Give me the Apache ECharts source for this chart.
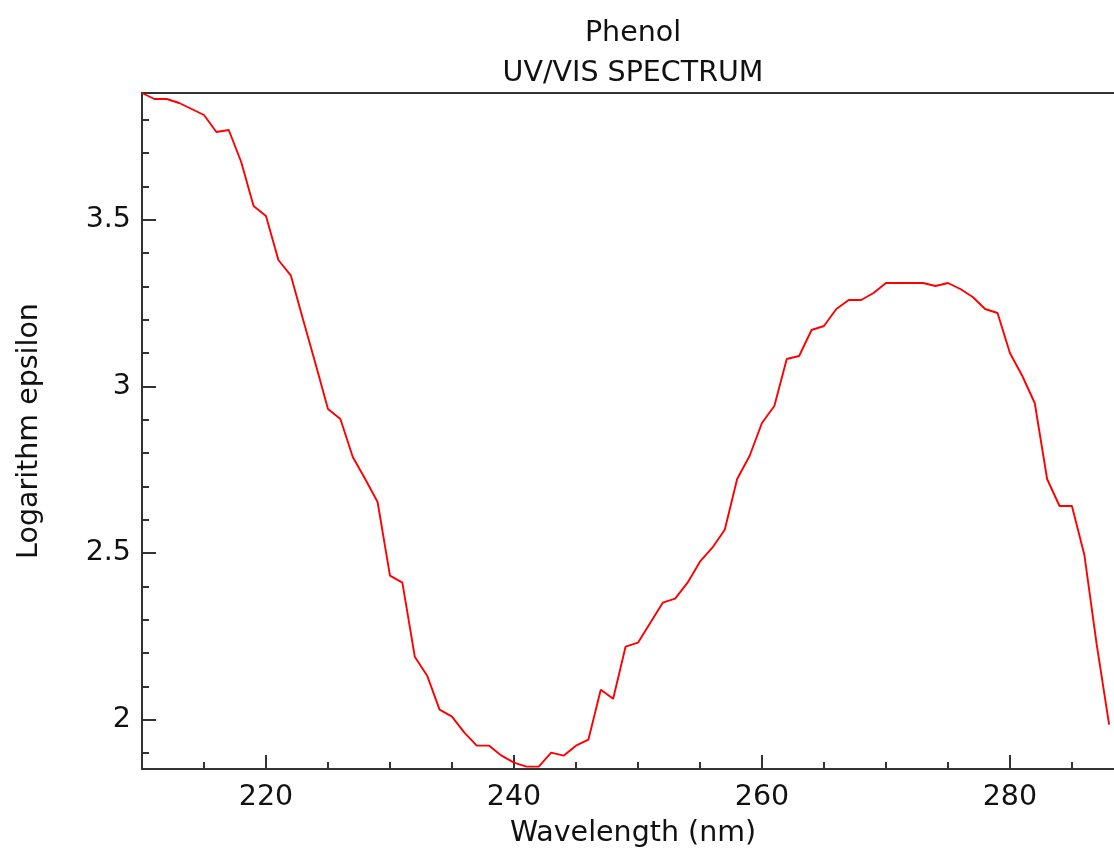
<!DOCTYPE html>
<html>
<head>
<meta charset="utf-8">
<script src="https://cdn.jsdelivr.net/npm/echarts@6/dist/echarts.min.js"></script>
<style>
html,body{margin:0;padding:0;background:#fff;}
#chart{width:1114px;height:849px;}
</style>
</head>
<body>
<div id="chart"></div>
<script>
// Wavelengths (nm) and logarithm of epsilon
const wavelengths = [210,211,212,213,214,215,216,217,218,219,220,221,222,223,224,225,226,227,228,229,
  230,231,232,233,234,235,236,237,238,239,240,241,242,243,244,245,246,247,248,249,
  250,251,252,253,254,255,256,257,258,259,260,261,262,263,264,265,266,267,268,269,
  270,271,272,273,274,275,276,277,278,279,280,281,282,283,284,285,286,287,288];
const logEpsilon = [3.88,3.862,3.862,3.85,3.832,3.814,3.763,3.769,3.673,3.541,3.511,3.379,3.333,3.199,3.067,2.932,2.902,2.788,2.722,2.653,
  2.432,2.411,2.189,2.132,2.03,2.009,1.961,1.922,1.922,1.892,1.871,1.859,1.859,1.901,1.892,1.922,1.94,2.09,2.063,2.219,
  2.231,2.291,2.351,2.363,2.411,2.474,2.516,2.57,2.722,2.791,2.89,2.941,3.082,3.091,3.169,3.181,3.232,3.259,3.259,3.28,
  3.31,3.31,3.31,3.31,3.301,3.31,3.292,3.268,3.232,3.22,3.1,3.031,2.95,2.722,2.641,2.641,2.495,2.225,1.985];

const xMajorTicks = [220,240,260,280];
const xMinorTicks = [215,225,230,235,245,250,255,265,270,275,285];
const yMajorTicks = [2,2.5,3,3.5];
const yMinorTicks = [1.9,2.1,2.2,2.3,2.4,2.6,2.7,2.8,2.9,3.1,3.2,3.3,3.4,3.6,3.7,3.8];

const xMin = 210, xMax = 289.2;
const yMin = 1.852, yMax = 3.88;

const FONT = 'DejaVu Sans';
const TXT = '#111';
const AX = '#333';

const chart = echarts.init(document.getElementById('chart'), null, {renderer:'canvas'});
const seriesData = wavelengths.map((w,i)=>[w, logEpsilon[i]]);

chart.setOption({
  animation:false,
  backgroundColor:'#fff',
  title:[
    {text:'Phenol', left:628, top:14, textAlign:'center',
     textStyle:{fontFamily:FONT, fontSize:28.5, fontWeight:'normal', color:TXT}},
    {text:'UV/VIS SPECTRUM', left:628, top:54, textAlign:'center',
     textStyle:{fontFamily:FONT, fontSize:28.5, fontWeight:'normal', color:TXT}}
  ],
  grid:{left:142, top:93, width:982, bottom:80, containLabel:false, outerBoundsMode:'none',
        show:true, borderColor:AX, borderWidth:2, backgroundColor:'transparent'},
  xAxis:[
    {type:'value', min:xMin, max:xMax, position:'bottom',
     name:'Wavelength (nm)', nameLocation:'middle', nameGap:50,
     nameTextStyle:{fontFamily:FONT, fontSize:28.5, color:TXT},
     axisLine:{show:false},
     axisTick:{show:true, inside:true, length:14, lineStyle:{color:AX, width:2}, customValues:xMajorTicks},
     axisLabel:{show:true, margin:14, fontFamily:FONT, fontSize:28.5, color:TXT, customValues:xMajorTicks},
     splitLine:{show:false}},
    {type:'value', min:xMin, max:xMax, position:'bottom',
     axisLine:{show:false},
     axisTick:{show:true, inside:true, length:7, lineStyle:{color:AX, width:2}, customValues:xMinorTicks},
     axisLabel:{show:false},
     splitLine:{show:false}}
  ],
  yAxis:[
    {type:'value', min:yMin, max:yMax, position:'left',
     name:'Logarithm epsilon', nameLocation:'middle', nameGap:98, nameRotate:90,
     nameTextStyle:{fontFamily:FONT, fontSize:28.5, color:TXT},
     axisLine:{show:false},
     axisTick:{show:true, inside:true, length:14, lineStyle:{color:AX, width:2}, customValues:yMajorTicks},
     axisLabel:{show:true, margin:11, fontFamily:FONT, fontSize:28.5, color:TXT, customValues:yMajorTicks,
       formatter:(v)=>String(v)},
     splitLine:{show:false}},
    {type:'value', min:yMin, max:yMax, position:'left',
     axisLine:{show:false},
     axisTick:{show:true, inside:true, length:7, lineStyle:{color:AX, width:2}, customValues:yMinorTicks},
     axisLabel:{show:false},
     splitLine:{show:false}}
  ],
  series:[{
    type:'line', xAxisIndex:0, yAxisIndex:0,
    data:seriesData, showSymbol:false, symbol:'none',
    lineStyle:{color:'#ff0000', width:1.9},
    clip:true
  }]
});
</script>
</body>
</html>
